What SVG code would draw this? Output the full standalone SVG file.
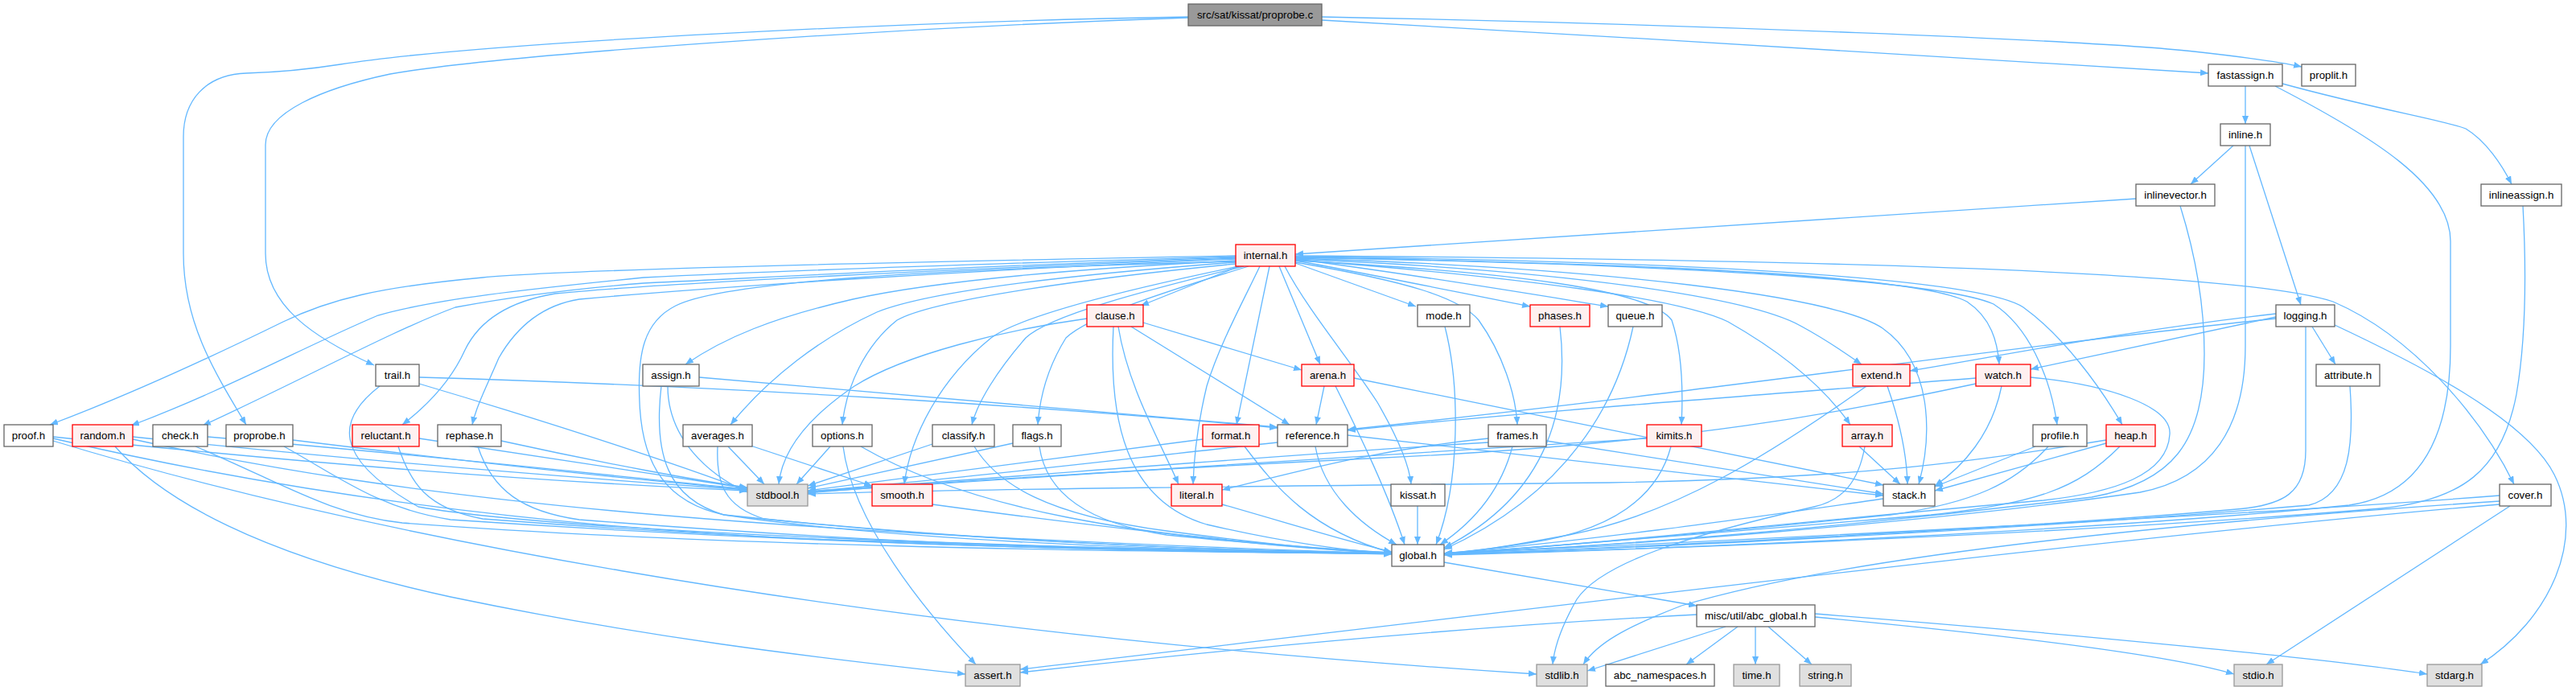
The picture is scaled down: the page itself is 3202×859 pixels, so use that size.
<svg xmlns="http://www.w3.org/2000/svg" width="3202" height="859" viewBox="0 0 3202 859">
<style>
.node rect{fill:#fff;stroke:#666;stroke-width:1.3}
.node.r rect{fill:#fff0f0;stroke:#f00}
.node.g rect{fill:#e0e0e0;stroke:#999}
.node.s rect{fill:#999;stroke:#666}
.node text{font-family:"Liberation Sans",Arial,Helvetica,sans-serif;font-size:13.3px;text-anchor:middle;fill:#000}
#edges path{fill:none;stroke:#63b8ff;stroke-width:1.3}
</style>
<defs>
<marker id="arr" viewBox="0 0 10 8" refX="10" refY="4" markerWidth="10" markerHeight="8" markerUnits="userSpaceOnUse" orient="auto">
<path d="M0,0 L10,4 L0,8 z" fill="#63b8ff" stroke="none"/>
</marker>
</defs>
<rect width="3202" height="859" fill="#fff"/>
<g id="edges" marker-end="url(#arr)">
<path d="M1477,21 C1150,26 600,52 423,80 C385,86 340,90 306,91 C255,93 228,125 228,170 L228,315 C228,400 265,460 306,528"/>
<path d="M1477,22 C1100,35 620,68 485,92 C400,110 330,140 330,180 L330,315 C330,380 390,420 465,454"/>
<path d="M1643,25 C2000,45 2500,75 2745,91"/>
<path d="M1643,21 C2100,30 2600,50 2727,64 C2790,71 2830,76 2861,83"/>
<path d="M2791,107 L2791,154"/>
<path d="M2837,104 C2950,135 3040,150 3065,160 C3090,175 3110,205 3122,229"/>
<path d="M2828,107 C2950,170 3046,230 3046,300 L3046,430 C3046,540 3010,615 2920,628 C2600,660 2100,682 1795,690"/>
<path d="M2776,181 L2723,229"/>
<path d="M2796,181 L2860,379"/>
<path d="M2791,181 L2791,430 C2791,530 2750,595 2660,612 C2400,650 2000,680 1795,688"/>
<path d="M2655,247 L1610,316"/>
<path d="M2710,256 C2730,320 2740,380 2740,440 C2740,550 2700,600 2600,618 C2300,655 2000,680 1795,688"/>
<path d="M3136,256 C3140,330 3140,420 3128,490 C3110,585 3060,622 2960,632 C2600,662 2100,682 1795,689"/>
<path d="M2866,406 L2866,560 C2866,612 2840,628 2780,633 C2500,658 2000,682 1795,689"/>
<path d="M2874,406 L2903,453"/>
<path d="M2902,404 C3000,450 3140,520 3175,590 C3215,670 3170,770 3083,826"/>
<path d="M2829,394 L2524,459"/>
<path d="M2829,390 C2650,410 2500,440 2374,461"/>
<path d="M2829,396 C2500,430 2100,490 1675,534"/>
<path d="M2921,480 C2926,550 2922,615 2870,628 C2500,660 2000,683 1795,689"/>
<path d="M1536,318 C1100,326 700,335 600,345 C470,357 410,372 352,400 C250,450 150,495 62,528"/>
<path d="M1536,319 C1150,330 900,340 800,345 C650,360 540,372 470,392 C380,430 280,485 163,529"/>
<path d="M1536,320 C1200,331 950,345 800,352 C700,360 620,372 566,382 C490,410 380,470 252,529"/>
<path d="M1536,321 C1200,334 820,352 690,365 C630,375 595,400 578,435 C560,475 530,505 500,528"/>
<path d="M1536,322 C1200,336 870,358 720,372 C670,380 640,410 620,445 C605,480 592,505 587,528"/>
<path d="M1536,324 C1300,336 1150,352 1060,372 C960,395 900,420 852,453"/>
<path d="M1536,326 C1350,340 1160,360 1090,388 C1020,420 955,470 908,528"/>
<path d="M1536,328 C1360,345 1160,372 1115,398 C1075,430 1052,480 1047,528"/>
<path d="M1540,331 C1400,360 1270,392 1232,420 C1170,470 1132,540 1124,602"/>
<path d="M1546,331 C1420,362 1305,392 1275,420 C1240,460 1215,500 1208,528"/>
<path d="M1552,331 C1450,362 1355,392 1325,420 C1300,460 1292,500 1290,528"/>
<path d="M1540,331 L1418,380"/>
<path d="M1566,331 C1545,375 1515,430 1500,480 C1488,530 1484,570 1483,602"/>
<path d="M1578,331 L1537,528"/>
<path d="M1590,331 L1641,453"/>
<path d="M1597,331 C1625,385 1680,450 1712,500 C1738,545 1752,580 1754,602"/>
<path d="M1536,325 C1150,335 900,350 840,380 C800,400 792,440 795,500 C798,580 830,625 900,640 C1100,670 1400,683 1730,689"/>
<path d="M1610,327 L1760,381"/>
<path d="M1610,324 C1700,340 1820,365 1902,381"/>
<path d="M1610,322 C1750,340 1900,365 1999,381"/>
<path d="M1610,326 C1750,350 1815,370 1838,398 C1868,440 1884,490 1886,528"/>
<path d="M1610,324 C1880,338 2050,360 2078,398 C2092,440 2092,490 2090,528"/>
<path d="M1610,323 C1900,345 2090,372 2148,400 C2215,438 2268,482 2300,528"/>
<path d="M1610,322 C1950,336 2175,370 2238,405 C2275,425 2298,442 2314,453"/>
<path d="M1610,321 C2000,333 2280,368 2340,408 C2402,452 2402,540 2385,602"/>
<path d="M1610,320 C2100,328 2390,345 2445,375 C2475,395 2483,425 2485,453"/>
<path d="M1610,320 C2150,330 2420,352 2478,378 C2520,405 2548,465 2557,528"/>
<path d="M1610,319 C2200,326 2470,352 2515,382 C2565,418 2610,480 2638,528"/>
<path d="M1610,318 C2200,322 2780,335 2900,375 C3000,418 3085,520 3125,602"/>
<path d="M1351,396 C1250,410 1125,440 1062,480 C1000,522 972,562 968,602"/>
<path d="M1421,401 L1618,460"/>
<path d="M1406,406 L1603,528"/>
<path d="M1390,406 C1402,480 1440,545 1465,602"/>
<path d="M1384,406 C1378,520 1398,622 1500,652 C1600,675 1680,685 1730,688"/>
<path d="M1646,480 L1636,528"/>
<path d="M1660,480 C1690,540 1725,612 1746,677"/>
<path d="M1683,470 L2341,603"/>
<path d="M2346,480 C2360,520 2370,560 2371,602"/>
<path d="M2320,480 C2200,565 2080,640 1950,665 C1870,680 1830,686 1795,688"/>
<path d="M2456,470 C2200,490 1900,512 1675,535"/>
<path d="M2456,477 C2300,510 2100,552 1700,570 C1400,585 1150,600 1004,613"/>
<path d="M2488,480 C2476,540 2440,580 2405,604"/>
<path d="M2524,469 C2620,478 2700,505 2697,540 C2694,590 2630,612 2540,622 C2200,652 1950,680 1795,688"/>
<path d="M2530,555 L2405,605"/>
<path d="M2546,555 C2505,600 2455,625 2350,640 C2100,665 1900,682 1795,688"/>
<path d="M2618,551 L2405,610"/>
<path d="M2618,547 C2450,575 2300,595 2000,600 C1600,604 1200,608 1004,614"/>
<path d="M2635,555 C2580,610 2530,625 2400,640 C2100,665 1900,682 1795,688"/>
<path d="M1922,548 L2341,614"/>
<path d="M1880,555 C1865,612 1830,650 1790,677"/>
<path d="M1850,545 C1700,560 1600,590 1519,609"/>
<path d="M1850,550 C1600,565 1300,590 1004,611"/>
<path d="M2047,545 C1800,560 1300,592 1004,612"/>
<path d="M2077,555 C2060,620 2000,660 1900,675 C1850,683 1820,686 1795,688"/>
<path d="M2311,555 L2362,602"/>
<path d="M2318,555 C2310,600 2290,622 2255,630 C2100,665 1990,700 1960,745 C1940,780 1932,805 1930,826"/>
<path d="M2341,620 C2200,640 2000,670 1795,688"/>
<path d="M1675,541 L2341,616"/>
<path d="M1635,555 C1645,612 1690,652 1736,677"/>
<path d="M1588,550 C1400,570 1200,595 1004,611"/>
<path d="M1762,629 L1762,677"/>
<path d="M1796,406 C1815,480 1815,600 1785,677"/>
<path d="M1939,406 C1950,500 1930,612 1795,681"/>
<path d="M2030,406 C2010,500 1950,612 1795,683"/>
<path d="M1495,546 L1004,610"/>
<path d="M1547,555 C1585,605 1630,660 1730,687"/>
<path d="M1519,627 C1600,650 1680,675 1730,686"/>
<path d="M1159,627 C1400,660 1600,680 1730,687"/>
<path d="M1259,551 L1004,607"/>
<path d="M1292,555 C1300,612 1350,650 1450,665 C1600,680 1680,686 1730,688"/>
<path d="M1159,552 L1004,604"/>
<path d="M1211,555 C1240,602 1300,640 1450,660 C1600,680 1680,686 1730,688"/>
<path d="M1032,555 L990,602"/>
<path d="M1048,555 C1060,650 1150,760 1213,826"/>
<path d="M1070,555 C1200,630 1400,670 1730,687"/>
<path d="M905,555 L950,602"/>
<path d="M933,554 L1084,604"/>
<path d="M892,555 C890,600 900,630 950,645 C1200,672 1500,684 1730,688"/>
<path d="M869,469 L1588,531"/>
<path d="M830,480 C830,545 880,590 929,612"/>
<path d="M822,480 C812,565 830,620 900,640 C1200,672 1500,684 1730,688"/>
<path d="M521,469 C900,480 1300,505 1588,532"/>
<path d="M521,477 C700,530 850,580 929,610"/>
<path d="M472,480 C420,520 410,568 520,630 C700,662 1300,682 1730,688"/>
<path d="M66,543 C400,578 700,600 929,610"/>
<path d="M66,545 C300,600 600,650 1000,670 C1400,683 1600,686 1730,688"/>
<path d="M66,548 C400,650 1000,780 1910,838"/>
<path d="M165,543 C500,578 800,600 929,609"/>
<path d="M165,546 C500,620 900,662 1730,688"/>
<path d="M143,555 C200,620 320,690 560,742 C800,792 1000,816 1200,838"/>
<path d="M258,543 C600,572 800,596 929,608"/>
<path d="M243,555 C350,600 410,640 500,650 C900,680 1400,686 1730,688"/>
<path d="M521,545 C700,572 850,596 929,607"/>
<path d="M495,555 C510,600 530,632 600,645 C1000,676 1400,686 1730,688"/>
<path d="M623,548 C750,576 870,598 929,606"/>
<path d="M594,555 C612,610 650,636 720,646 C1100,676 1400,686 1730,688"/>
<path d="M364,547 C600,576 800,598 929,608"/>
<path d="M353,555 C420,592 470,632 560,646 C1000,676 1400,686 1730,688"/>
<path d="M1795,699 L2109,753"/>
<path d="M2109,764 C1800,780 1500,810 1268,836"/>
<path d="M2145,779 L1973,834"/>
<path d="M2160,779 L2096,826"/>
<path d="M2182,779 L2182,826"/>
<path d="M2198,779 L2252,826"/>
<path d="M2256,767 C2500,790 2700,815 2777,838"/>
<path d="M2256,763 C2600,790 2900,820 3017,838"/>
<path d="M3107,616 C2800,640 2200,670 1795,688"/>
<path d="M3107,623 C2700,650 2300,690 2090,753 C2020,780 1985,800 1968,826"/>
<path d="M3107,627 C2600,670 1800,770 1268,832"/>
<path d="M3120,629 L2817,826"/>
</g>
<g id="src_proprobe_c" class="node s"><rect x="1477" y="5" width="166" height="27"/><text x="1560" y="23">src/sat/kissat/proprobe.c</text></g>
<g id="fastassign_h" class="node"><rect x="2745" y="80" width="92" height="27"/><text x="2791" y="98">fastassign.h</text></g>
<g id="proplit_h" class="node"><rect x="2861" y="80" width="67" height="27"/><text x="2894.5" y="98">proplit.h</text></g>
<g id="inline_h" class="node"><rect x="2760" y="154" width="62" height="27"/><text x="2791" y="172">inline.h</text></g>
<g id="inlinevector_h" class="node"><rect x="2655" y="229" width="98" height="27"/><text x="2704" y="247">inlinevector.h</text></g>
<g id="inlineassign_h" class="node"><rect x="3084" y="229" width="100" height="27"/><text x="3134" y="247">inlineassign.h</text></g>
<g id="internal_h" class="node r"><rect x="1536" y="304" width="74" height="27"/><text x="1573" y="322">internal.h</text></g>
<g id="clause_h" class="node r"><rect x="1351" y="379" width="70" height="27"/><text x="1386" y="397">clause.h</text></g>
<g id="mode_h" class="node"><rect x="1762" y="379" width="65" height="27"/><text x="1794.5" y="397">mode.h</text></g>
<g id="phases_h" class="node r"><rect x="1902" y="379" width="74" height="27"/><text x="1939" y="397">phases.h</text></g>
<g id="queue_h" class="node"><rect x="1999" y="379" width="67" height="27"/><text x="2032.5" y="397">queue.h</text></g>
<g id="logging_h" class="node"><rect x="2829" y="379" width="73" height="27"/><text x="2865.5" y="397">logging.h</text></g>
<g id="trail_h" class="node"><rect x="467" y="453" width="54" height="27"/><text x="494" y="471">trail.h</text></g>
<g id="assign_h" class="node"><rect x="799" y="453" width="70" height="27"/><text x="834" y="471">assign.h</text></g>
<g id="arena_h" class="node r"><rect x="1618" y="453" width="65" height="27"/><text x="1650.5" y="471">arena.h</text></g>
<g id="extend_h" class="node r"><rect x="2303" y="453" width="71" height="27"/><text x="2338.5" y="471">extend.h</text></g>
<g id="watch_h" class="node r"><rect x="2456" y="453" width="68" height="27"/><text x="2490" y="471">watch.h</text></g>
<g id="attribute_h" class="node"><rect x="2879" y="453" width="79" height="27"/><text x="2918.5" y="471">attribute.h</text></g>
<g id="proof_h" class="node"><rect x="5" y="528" width="61" height="27"/><text x="35.5" y="546">proof.h</text></g>
<g id="random_h" class="node r"><rect x="90" y="528" width="75" height="27"/><text x="127.5" y="546">random.h</text></g>
<g id="check_h" class="node"><rect x="190" y="528" width="68" height="27"/><text x="224" y="546">check.h</text></g>
<g id="proprobe_h" class="node"><rect x="281" y="528" width="83" height="27"/><text x="322.5" y="546">proprobe.h</text></g>
<g id="reluctant_h" class="node r"><rect x="438" y="528" width="83" height="27"/><text x="479.5" y="546">reluctant.h</text></g>
<g id="rephase_h" class="node"><rect x="544" y="528" width="79" height="27"/><text x="583.5" y="546">rephase.h</text></g>
<g id="averages_h" class="node"><rect x="849" y="528" width="86" height="27"/><text x="892" y="546">averages.h</text></g>
<g id="options_h" class="node"><rect x="1010" y="528" width="74" height="27"/><text x="1047" y="546">options.h</text></g>
<g id="classify_h" class="node"><rect x="1159" y="528" width="77" height="27"/><text x="1197.5" y="546">classify.h</text></g>
<g id="flags_h" class="node"><rect x="1259" y="528" width="60" height="27"/><text x="1289" y="546">flags.h</text></g>
<g id="format_h" class="node r"><rect x="1495" y="528" width="70" height="27"/><text x="1530" y="546">format.h</text></g>
<g id="reference_h" class="node"><rect x="1588" y="528" width="87" height="27"/><text x="1631.5" y="546">reference.h</text></g>
<g id="frames_h" class="node"><rect x="1850" y="528" width="72" height="27"/><text x="1886" y="546">frames.h</text></g>
<g id="kimits_h" class="node r"><rect x="2047" y="528" width="68" height="27"/><text x="2081" y="546">kimits.h</text></g>
<g id="array_h" class="node r"><rect x="2290" y="528" width="62" height="27"/><text x="2321" y="546">array.h</text></g>
<g id="profile_h" class="node"><rect x="2527" y="528" width="67" height="27"/><text x="2560.5" y="546">profile.h</text></g>
<g id="heap_h" class="node r"><rect x="2618" y="528" width="61" height="27"/><text x="2648.5" y="546">heap.h</text></g>
<g id="stdbool_h" class="node g"><rect x="929" y="602" width="75" height="27"/><text x="966.5" y="620">stdbool.h</text></g>
<g id="smooth_h" class="node r"><rect x="1084" y="602" width="75" height="27"/><text x="1121.5" y="620">smooth.h</text></g>
<g id="literal_h" class="node r"><rect x="1456" y="602" width="63" height="27"/><text x="1487.5" y="620">literal.h</text></g>
<g id="kissat_h" class="node"><rect x="1729" y="602" width="67" height="27"/><text x="1762.5" y="620">kissat.h</text></g>
<g id="stack_h" class="node"><rect x="2341" y="602" width="64" height="27"/><text x="2373" y="620">stack.h</text></g>
<g id="cover_h" class="node"><rect x="3107" y="602" width="64" height="27"/><text x="3139" y="620">cover.h</text></g>
<g id="global_h" class="node"><rect x="1730" y="677" width="65" height="27"/><text x="1762.5" y="695">global.h</text></g>
<g id="abc_global_h" class="node"><rect x="2109" y="752" width="147" height="27"/><text x="2182.5" y="770">misc/util/abc_global.h</text></g>
<g id="assert_h" class="node g"><rect x="1200" y="826" width="68" height="27"/><text x="1234" y="844">assert.h</text></g>
<g id="stdlib_h" class="node g"><rect x="1910" y="826" width="63" height="27"/><text x="1941.5" y="844">stdlib.h</text></g>
<g id="abc_namespaces_h" class="node"><rect x="1996" y="826" width="135" height="27"/><text x="2063.5" y="844">abc_namespaces.h</text></g>
<g id="time_h" class="node g"><rect x="2155" y="826" width="57" height="27"/><text x="2183.5" y="844">time.h</text></g>
<g id="string_h" class="node g"><rect x="2237" y="826" width="64" height="27"/><text x="2269" y="844">string.h</text></g>
<g id="stdio_h" class="node g"><rect x="2777" y="826" width="60" height="27"/><text x="2807" y="844">stdio.h</text></g>
<g id="stdarg_h" class="node g"><rect x="3017" y="826" width="68" height="27"/><text x="3051" y="844">stdarg.h</text></g>
</svg>
